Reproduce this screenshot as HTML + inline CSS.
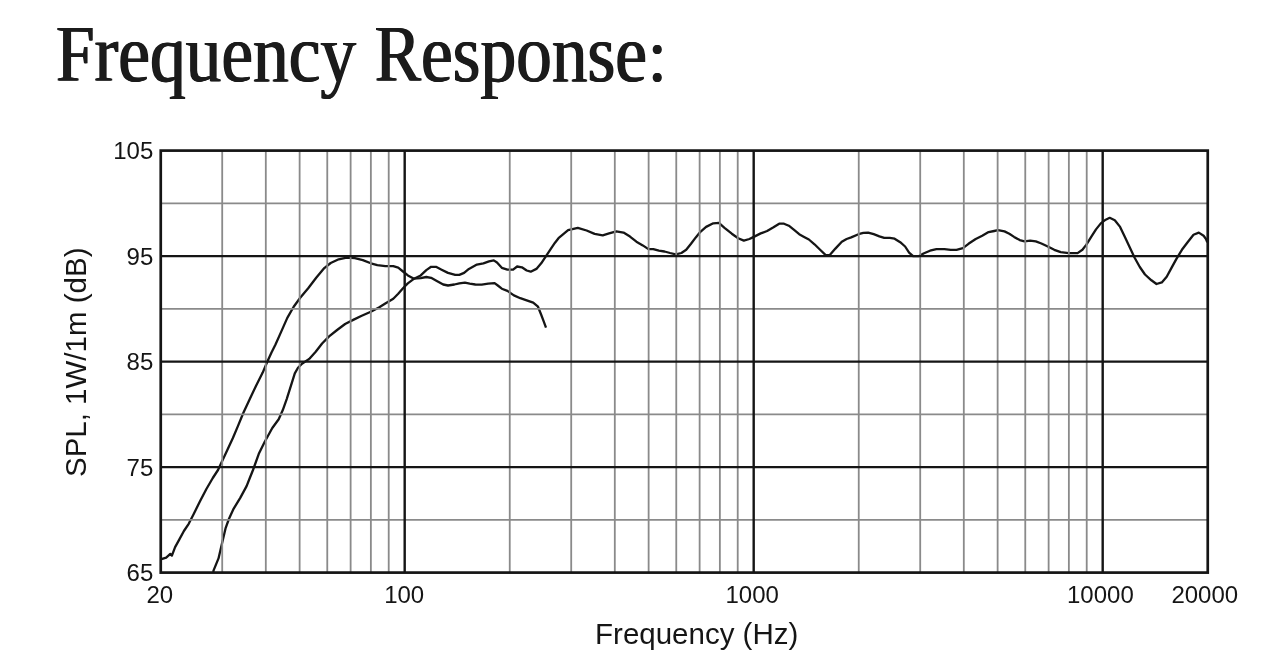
<!DOCTYPE html>
<html lang="en"><head><meta charset="utf-8"><title>Frequency Response</title>
<style>
html,body{margin:0;padding:0;background:#fff;}
body{width:1280px;height:672px;position:relative;overflow:hidden;}
h1{position:absolute;left:55.5px;top:0;margin:0;font-family:"Liberation Serif","Times New Roman",serif;font-weight:400;font-size:83px;line-height:100px;height:100px;color:#1b1b1b;white-space:nowrap;transform-origin:0 0;transform:translateY(3px) scaleX(0.86);text-shadow:0.8px 0 0 #1b1b1b,-0.8px 0 0 #1b1b1b;}
h1 span{font-size:80.5px;}
h1 .r{margin-left:1px;}
h1 .c{font-size:76px;margin-left:1.5px;}
</style></head><body>
<h1 id="title"><span>F</span>requency <span class="r">R</span>esponse<span class="c">:</span></h1>
<svg width="1280" height="672" viewBox="0 0 1280 672" style="position:absolute;left:0;top:0">
<path d="M160.8 559.4 L161.4 559.2 L166.2 557.6 L170.3 553.9 L171.9 555.6 L175.1 547.1 L179.1 539.9 L183.9 531.0 L188.7 523.8 L193.6 514.2 L200.0 501.3 L206.4 489.0 L212.8 478.0 L218.0 470.0 L225.0 455.0 L232.9 438.0 L237.8 426.4 L243.4 412.7 L249.8 399.1 L256.2 385.4 L262.7 372.6 L267.5 361.3 L271.5 352.5 L275.5 344.5 L280.9 332.4 L287.3 317.9 L293.7 306.7 L300.2 297.8 L308.2 288.2 L316.2 277.8 L324.3 268.1 L330.7 263.0 L338.7 259.3 L346.7 257.7 L354.8 258.2 L362.8 260.1 L370.8 263.3 L377.3 265.2 L385.3 266.2 L393.3 266.2 L398.2 267.6 L403.0 271.5 L407.9 275.4 L413.5 278.6 L420.7 278.1 L426.3 277.0 L431.1 277.8 L436.8 281.0 L443.2 284.5 L448.0 285.5 L454.4 284.5 L459.3 283.4 L464.9 282.6 L469.7 283.7 L475.3 284.5 L481.7 284.7 L488.2 283.7 L494.6 283.1 L497.8 285.5 L501.8 288.7 L507.4 290.9 L513.9 295.4 L520.3 298.2 L526.7 300.3 L533.2 302.7 L538.0 306.7 L541.2 314.7 L543.6 321.1 L546.0 327.6" stroke="#151515" stroke-width="2.3" fill="none" stroke-linejoin="round" stroke-linecap="butt"/>
<path d="M213.2 572.0 L213.6 570.4 L218.5 558.4 L221.7 544.7 L225.7 527.8 L228.9 519.0 L233.7 508.6 L240.1 498.1 L246.6 486.1 L249.8 478.0 L253.0 470.0 L258.8 453.8 L265.0 441.2 L267.5 436.8 L272.3 428.0 L278.7 419.2 L282.7 410.3 L286.7 399.1 L290.8 386.2 L294.8 373.4 L298.0 367.8 L302.0 363.7 L309.2 358.9 L315.7 351.7 L322.1 343.5 L329.1 336.4 L337.1 330.0 L345.1 324.0 L353.2 319.9 L361.2 316.0 L370.8 311.8 L378.9 307.5 L385.3 303.5 L393.3 298.7 L398.2 293.8 L403.0 288.2 L407.8 283.4 L413.5 279.1 L420.7 275.4 L426.3 270.1 L431.1 266.8 L436.0 266.8 L441.6 269.7 L448.0 272.9 L455.2 274.9 L459.3 274.9 L464.1 272.9 L468.9 268.9 L476.9 264.6 L483.4 263.3 L489.0 261.4 L493.8 260.4 L497.0 262.5 L501.8 267.8 L507.4 269.7 L513.1 269.7 L517.1 266.5 L521.9 267.3 L526.7 270.5 L530.7 271.7 L536.4 268.9 L541.2 263.3 L546.0 256.1 L550.8 248.9 L555.0 242.7 L558.5 238.2 L568.1 230.2 L577.8 227.8 L586.6 230.5 L594.6 233.9 L602.7 235.3 L609.1 233.4 L616.3 231.4 L623.5 232.6 L630.0 236.6 L636.4 241.7 L642.8 245.4 L648.4 249.1 L653.3 249.1 L658.9 250.7 L664.5 251.5 L670.1 253.0 L675.7 254.3 L681.4 253.0 L686.2 249.8 L691.0 243.8 L695.8 237.4 L700.4 231.8 L706.1 226.9 L713.3 223.3 L718.9 222.9 L724.5 227.8 L731.8 233.7 L738.2 238.2 L743.8 240.6 L749.4 239.0 L754.3 236.6 L760.7 233.4 L767.1 231.0 L773.5 227.3 L779.2 223.7 L784.0 223.7 L788.8 225.7 L794.4 230.2 L799.2 234.2 L804.1 236.9 L808.9 239.5 L814.5 244.3 L820.1 249.8 L825.7 255.1 L829.8 255.1 L835.4 248.6 L841.8 241.7 L846.6 239.0 L851.2 237.4 L858.5 234.2 L863.3 232.9 L868.1 232.6 L873.7 234.2 L879.4 236.3 L884.2 237.9 L889.8 237.9 L894.6 238.7 L900.2 242.2 L905.1 246.5 L909.1 252.7 L913.1 256.2 L918.7 256.2 L923.5 253.5 L930.0 250.7 L936.4 249.1 L944.4 249.1 L950.8 249.9 L956.5 249.9 L962.9 248.2 L968.5 243.8 L975.7 239.0 L982.2 235.8 L988.6 232.1 L994.2 231.0 L998.0 230.2 L1004.5 231.4 L1009.3 233.7 L1014.1 236.9 L1019.7 240.1 L1024.5 241.4 L1030.2 240.6 L1035.8 241.4 L1041.4 243.5 L1047.8 246.5 L1054.3 249.8 L1060.7 252.2 L1068.7 253.1 L1077.6 253.1 L1082.4 249.8 L1086.4 244.6 L1091.2 236.9 L1096.0 229.4 L1100.8 223.4 L1105.7 219.7 L1109.7 217.8 L1114.8 220.2 L1120.1 226.9 L1124.9 237.0 L1129.7 247.2 L1134.5 257.5 L1139.8 267.0 L1145.0 274.5 L1151.4 280.3 L1156.5 284.0 L1161.8 282.4 L1166.7 276.7 L1171.5 267.9 L1176.3 259.1 L1181.9 249.8 L1187.6 242.2 L1193.5 234.7 L1198.8 232.6 L1203.6 235.8 L1206.0 239.0 L1207.3 242.2" stroke="#151515" stroke-width="2.3" fill="none" stroke-linejoin="round" stroke-linecap="butt"/>
<path d="M222.21 150.60V572.60M265.81 150.60V572.60M299.63 150.60V572.60M327.27 150.60V572.60M350.63 150.60V572.60M370.87 150.60V572.60M388.72 150.60V572.60M509.75 150.60V572.60M571.21 150.60V572.60M614.81 150.60V572.60M648.63 150.60V572.60M676.27 150.60V572.60M699.63 150.60V572.60M719.87 150.60V572.60M737.72 150.60V572.60M858.75 150.60V572.60M920.21 150.60V572.60M963.81 150.60V572.60M997.63 150.60V572.60M1025.27 150.60V572.60M1048.63 150.60V572.60M1068.87 150.60V572.60M1086.72 150.60V572.60M160.75 203.35H1207.75M160.75 308.85H1207.75M160.75 414.35H1207.75M160.75 519.85H1207.75" stroke="#8a8a8a" stroke-width="1.8" fill="none"/>
<path d="M404.69 150.60V572.60M753.69 150.60V572.60M1102.69 150.60V572.60M160.75 256.10H1207.75M160.75 361.60H1207.75M160.75 467.10H1207.75" stroke="#151515" stroke-width="2.4" fill="none"/>
<rect x="160.75" y="150.60" width="1047.00" height="422.00" stroke="#151515" stroke-width="2.7" fill="none"/>
<g font-family="'Liberation Sans', Arial, sans-serif" font-size="24" fill="#151515">
<text x="153.3" y="159.30" text-anchor="end">105</text>
<text x="153.3" y="264.80" text-anchor="end">95</text>
<text x="153.3" y="370.30" text-anchor="end">85</text>
<text x="153.3" y="475.80" text-anchor="end">75</text>
<text x="153.3" y="581.30" text-anchor="end">65</text>
<text x="159.75" y="602.8" text-anchor="middle">20</text>
<text x="404.19" y="602.8" text-anchor="middle">100</text>
<text x="752.19" y="602.8" text-anchor="middle">1000</text>
<text x="1100.39" y="602.8" text-anchor="middle">10000</text>
<text x="1204.75" y="602.8" text-anchor="middle">20000</text>
</g>
<g font-family="'Liberation Sans', Arial, sans-serif" font-size="29.5" fill="#151515">
<text x="696.7" y="644.4" text-anchor="middle">Frequency (Hz)</text>
<text transform="translate(86.0 362.3) rotate(-90)" text-anchor="middle">SPL, 1W/1m (dB)</text>
</g>
</svg>
</body></html>
